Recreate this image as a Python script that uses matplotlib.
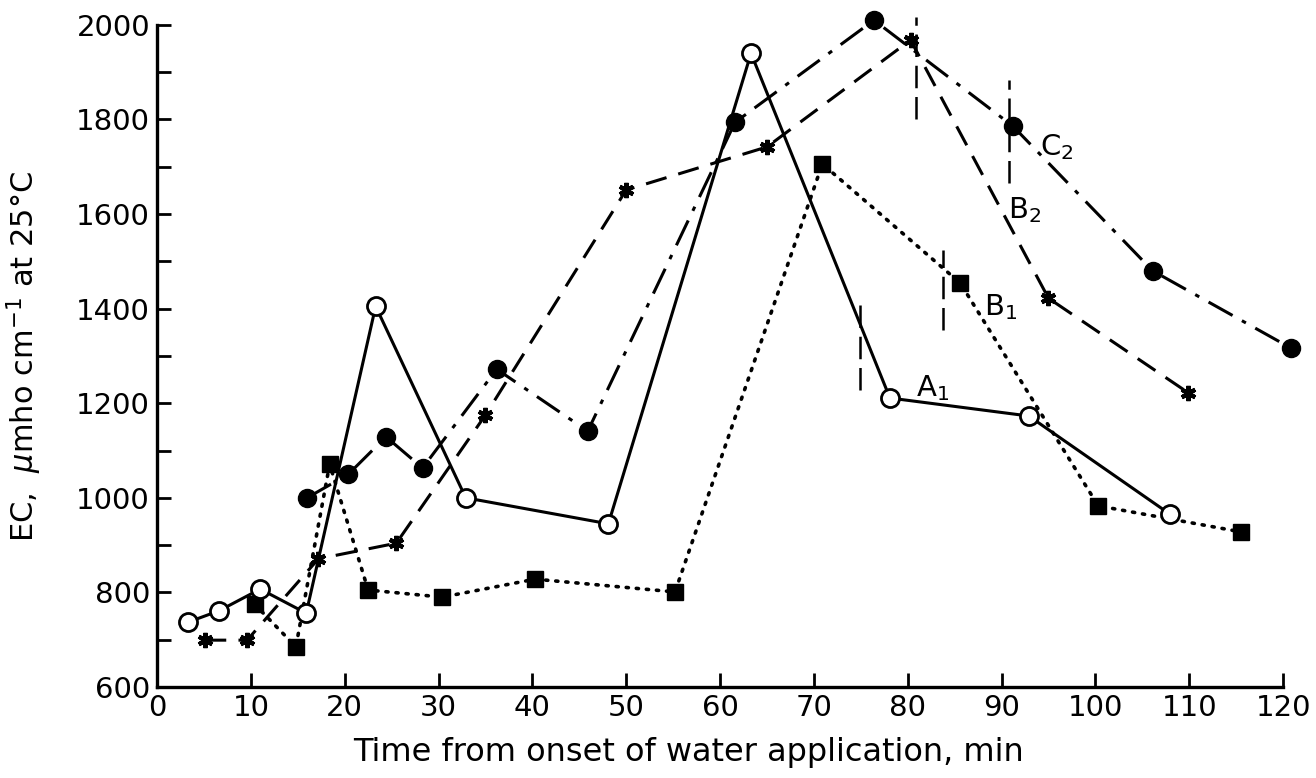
import matplotlib
matplotlib.use("Agg")
import matplotlib.pyplot as plt

# curve A1 - open circles, solid
a1_x = [3.3, 6.6, 11.0, 15.9, 23.3, 32.9, 48.1, 63.3, 78.1, 92.9, 107.9]
a1_y = [737, 761, 807, 756, 1405, 1000, 945, 1940, 1211, 1173, 966]

# curve B1 - filled squares, dotted
b1_x = [10.4, 14.8, 18.4, 22.5, 30.4, 40.3, 55.2, 70.9, 85.6, 100.3, 115.5]
b1_y = [775, 685, 1071, 805, 790, 828, 801, 1706, 1454, 983, 928]

# curve B2 - stars, dashed
b2_x = [5.1, 9.6, 17.2, 25.5, 35.0, 50.0, 65.0, 80.3, 95.0, 109.9]
b2_y = [699, 699, 871, 904, 1175, 1651, 1742, 1968, 1422, 1222]

# curve C2 - filled circles, dash-dot
c2_x = [16.0, 20.4, 24.4, 28.3, 36.2, 45.9, 61.6, 76.4, 91.2, 106.1, 120.8]
c2_y = [1000, 1050, 1129, 1063, 1272, 1141, 1794, 2010, 1786, 1480, 1317]

# short vertical dashed marks (x, y bottom, y top)
mark_x = [74.9, 83.8, 80.9, 90.8]
mark_lo = [1228, 1355, 1800, 1665]
mark_hi = [1414, 1524, 2017, 1883]

# curve labels
lab_txt = ["A$_1$", "B$_1$", "B$_2$", "C$_2$"]
lab_x = [82.7, 89.9, 92.4, 95.9]
lab_y = [1232, 1403, 1608, 1742]

plt.rcParams['font.family'] = ['DejaVu Sans']
plt.rcParams['mathtext.fontset'] = 'dejavusans'

fig = plt.figure(figsize=(13.16, 7.78), dpi=100)
ax = fig.add_axes([0.1193, 0.117, 0.8557, 0.851])

lw = 2.2
ax.plot(a1_x, a1_y, color='black', lw=lw, ls='-', marker='o', ms=13,
        mfc='white', mec='black', mew=2, zorder=4)
ax.plot(b1_x, b1_y, color='black', lw=2.6, ls=(0, (0.6, 2.2)),
        dash_capstyle='round', marker='s', ms=12, mfc='black', mec='black', zorder=3)
ax.plot(b2_x, b2_y, color='black', lw=lw, ls=(0, (7, 4)), marker=(6, 2, 0),
        ms=11, mec='black', mew=3, zorder=3)
ax.plot(c2_x, c2_y, color='black', lw=lw, ls=(0, (9, 3.5, 1.5, 3.5)), marker='o',
        ms=13, mfc='black', mec='black', zorder=3, clip_on=False)

for x, lo, hi in zip(mark_x, mark_lo, mark_hi):
    ax.plot([x, x], [lo, hi], color='black', lw=1.8, ls=(0, (9, 3.5)), zorder=2,
            clip_on=False)

for t, x, y in zip(lab_txt, lab_x, lab_y):
    ax.text(x, y, t, fontsize=21, ha='center', va='center')

ax.set_xlim(0, 120)
ax.set_ylim(600, 2000)
ax.set_xticks(range(0, 121, 10))
ax.set_yticks(range(600, 2001, 100))
ax.set_yticklabels([str(v) if v % 200 == 0 else '' for v in range(600, 2001, 100)])

for s in ['top', 'right']:
    ax.spines[s].set_visible(False)
for s in ['left', 'bottom']:
    ax.spines[s].set_linewidth(2.4)

ax.tick_params(direction='in', length=10, width=2, labelsize=21, pad=5)

ax.set_xlabel("Time from onset of water application, min",
              fontsize=23, family=['Liberation Sans Narrow', 'DejaVu Sans'])
ax.xaxis.set_label_coords(0.472, -0.075)
ax.set_ylabel("EC,  $\\mu$mho cm$^{-1}$ at 25\u00b0C", fontsize=22)
ax.yaxis.set_label_coords(-0.1, 0.5)

fig.savefig("out.png", dpi=100)
